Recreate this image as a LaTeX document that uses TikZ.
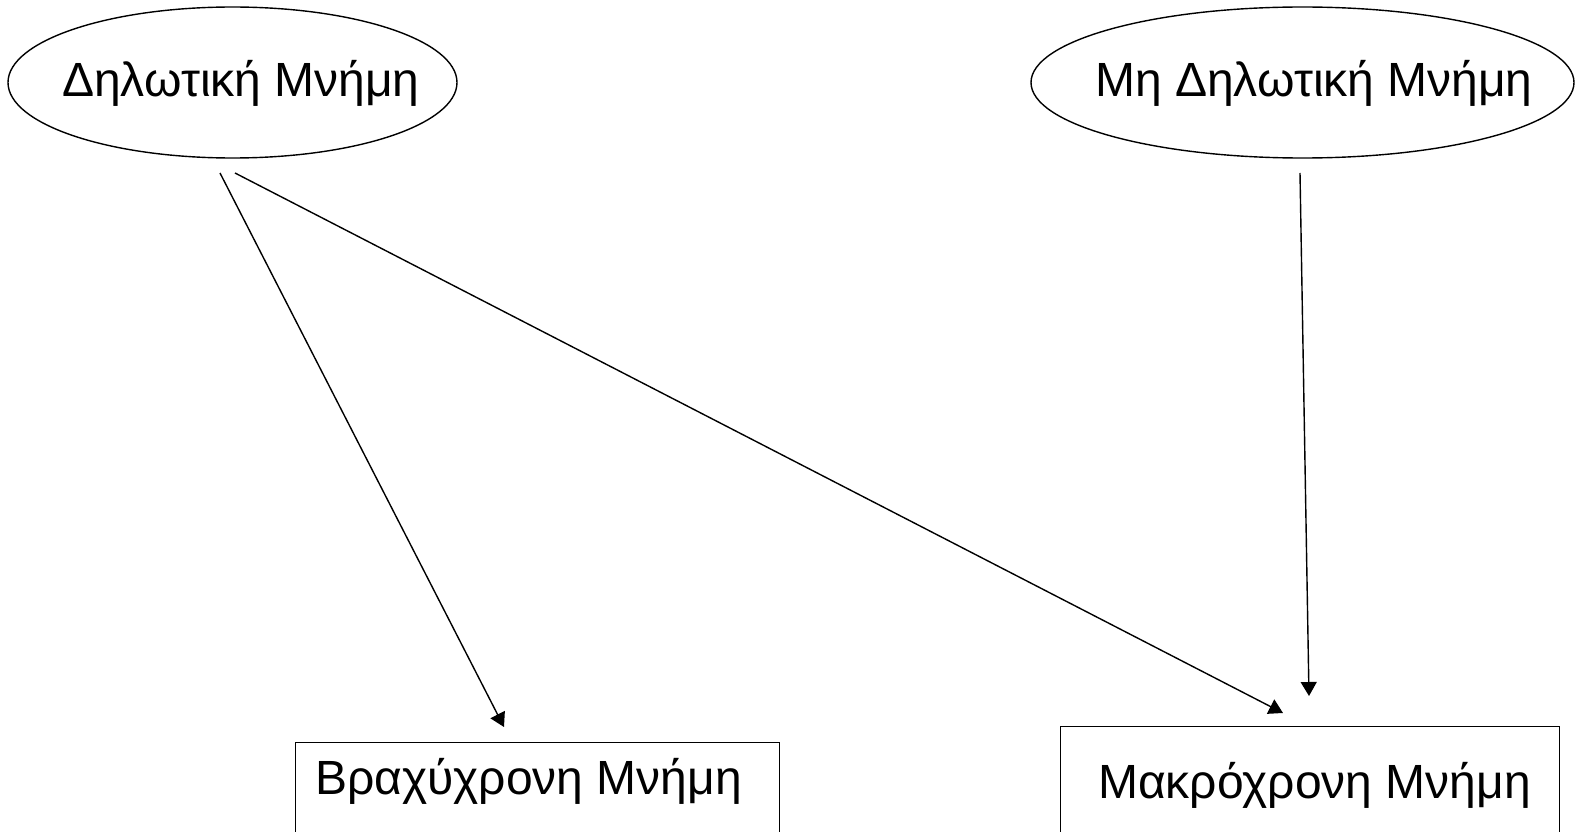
\documentclass[tikz,border=0pt]{standalone}
\usepackage{fontspec}
\setmainfont{Liberation Sans}
\usetikzlibrary{shapes.geometric,arrows.meta}
\begin{document}
\begin{tikzpicture}[x=1pt,y=-1pt,
  oval/.style={draw,ellipse,line width=1.4pt,inner sep=0pt},
  memtext/.style={anchor=base west,inner sep=0pt,font=\fontsize{48}{50}\selectfont},
  membox/.style={draw,rectangle,line width=1.4pt,inner sep=0pt,anchor=north west},
  conn/.style={line width=1.4pt,-{Triangle[length=14pt,width=16pt]}}]
\useasboundingbox (0,0) rectangle (1575,832);
\node[oval,minimum width=449pt,minimum height=151pt] (dl) at (232.5,82.5) {};
\node[memtext] (dlt) at (62,97) {Δηλωτική Μνήμη};
\node[oval,minimum width=543pt,minimum height=151pt] (ndl) at (1302.5,82.5) {};
\node[memtext] (ndlt) at (1095,97) {Μη Δηλωτική Μνήμη};
\node[membox,minimum width=484pt,minimum height=91pt] (br) at (295,742) {};
\node[memtext] (brt) at (315,794) {Βραχύχρονη Μνήμη};
\node[membox,minimum width=499pt,minimum height=107pt] (mk) at (1060,726) {};
\node[memtext] (mkt) at (1098,798) {Μακρόχρονη Μνήμη};
\coordinate (a1s) at (220,173);
\coordinate (a1e) at (504,727);
\coordinate (a2s) at (235,173);
\coordinate (a2e) at (1283,713);
\coordinate (a3s) at (1300,173);
\coordinate (a3e) at (1309,696);
\draw[conn] (a1s) -- (a1e);
\draw[conn] (a2s) -- (a2e);
\draw[conn] (a3s) -- (a3e);
\end{tikzpicture}
\end{document}
